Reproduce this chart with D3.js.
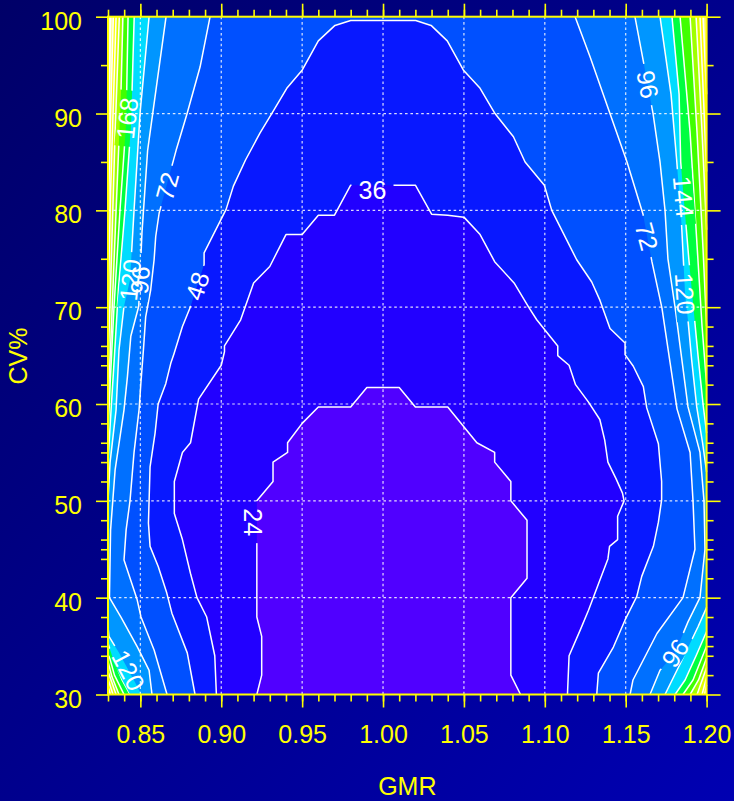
<!DOCTYPE html>
<html>
<head>
<meta charset="utf-8">
<script src="https://cdn.jsdelivr.net/npm/d3@7"></script>
<style>
  html, body { margin: 0; padding: 0; background: #00008a; }
  svg { display: block; font-family: 'Liberation Sans', Arial, sans-serif; }
</style>
</head>
<body>
<div id="chart"></div>
<script>
// contour levels (sample size) and the fill of the band just below each level
const levels = [24, 36, 48, 72, 96, 120, 144, 168, 192, 216, 240, 264, 288];
const bandColors = ['#5000ff', '#2200ff', '#0818ff', '#0050ff', '#0070ff', '#0096ff', '#00dcff',
  '#00ff40', '#40ff00', '#a0ff00', '#e0ff00', '#ffff00', '#ffff80'];
const overColor = '#ffffd0';

// axis ticks
const xMajor = [0.85, 0.90, 0.95, 1.00, 1.05, 1.10, 1.15, 1.20];
const xMinor = d3.range(83, 121).map(d => d / 100);
const yMajor = [30, 40, 50, 60, 70, 80, 90, 100];
const yMinor = [32, 34, 35, 36, 38, 42, 44, 45, 46, 48, 52, 54, 55, 56, 58, 62, 64, 65, 66, 68, 75, 85, 95];
const xGrid = [0.85, 0.90, 0.95, 1.00, 1.05, 1.10, 1.15];
const yGrid = [40, 50, 60, 70, 80, 90];

// contour lines, [GMR, CV%]
const c24 = [[0.922,30],[0.925,32],[0.925,36],[0.922,38],[0.922,50],[0.932,52],[0.932,54],[0.941,55],[0.941,56],
  [0.950,58],[0.960,59.7],[0.980,59.7],[0.990,61.7],[1.010,61.7],[1.020,59.7],[1.040,59.7],[1.058,56],[1.069,55],
  [1.069,54],[1.079,52],[1.079,50],[1.089,48],[1.089,42],[1.079,40],[1.079,32],[1.085,30]];
const c36 = [[0.897,30],[0.896,34],[0.891,38],[0.885,40],[0.881,42.5],[0.876,46],[0.871,48.7],[0.871,52],[0.876,55],
  [0.881,56],[0.886,60.5],[0.900,64],[0.902,65.4],[0.902,66],[0.912,68.7],[0.920,72.5],[0.930,74.2],[0.940,77.5],
  [0.950,77.5],[0.960,79.5],[0.970,79.5],[0.980,82.6],[1.020,82.6],[1.030,79.6],[1.040,79.5],[1.050,79.3],
  [1.060,77.5],[1.069,74.7],[1.081,72.5],[1.090,70],[1.095,68.7],[1.108,66],[1.108,65],[1.115,64],[1.119,62],
  [1.127,60.2],[1.134,58.4],[1.137,56.3],[1.139,54],[1.144,52.3],[1.148,50.8],[1.149,50],[1.145,48.4],[1.145,46],
  [1.140,45.3],[1.139,44],[1.134,41.8],[1.127,38.7],[1.122,36.7],[1.115,34],[1.114,30]];
const c48 = [[0.8838,30],[0.879,34.3],[0.8695,38.4],[0.8663,40.5],[0.8611,43.2],[0.856,45.3],[0.855,47.7],[0.856,53.5],
  [0.8591,57],[0.861,60],[0.8657,62.1],[0.8688,64.2],[0.8708,65.2],[0.876,68],[0.8811,70.1],[0.8894,74.4],
  [0.8894,75.6],[0.903,80.1],[0.9075,82.5],[0.915,85.2],[0.924,88],[0.9312,90],[0.9405,92.6],[0.9501,94.5],
  [0.96,97.5],[0.9703,99.1],[0.98,99.6],[1.0202,99.6],[1.0297,99.1],[1.0397,97.5],[1.0496,94.5],[1.06,92.6],
  [1.0692,90],[1.0806,87.6],[1.0878,85],[1.0997,82.6],[1.1043,80],[1.1197,74.9],[1.129,72.6],[1.1341,70.7],
  [1.1403,67.8],[1.1496,66.3],[1.1496,65.1],[1.1547,63.9],[1.1609,61.8],[1.163,59.6],[1.1702,55.9],[1.1722,52],
  [1.1722,50.1],[1.1702,47.8],[1.1671,45.3],[1.1599,42.2],[1.1568,40.1],[1.1496,37.7],[1.1424,34.9],[1.1331,32.2],
  [1.1321,30]];
const c72Left = [[0.8665,30],[0.8585,34.6],[0.8504,38],[0.848,39.8],[0.8399,43.9],[0.8412,47],[0.8436,50],[0.8461,55],
  [0.8492,59.4],[0.8503,62.1],[0.8519,65.6],[0.8533,69],[0.8564,71.8],[0.8585,74.9],[0.8595,77.3],[0.8616,79.7],
  [0.8721,86.2],[0.8789,90],[0.8869,94.8],[0.8931,100]];
const c72Right = [[1.1187,100],[1.1279,95.9],[1.1508,85],[1.1607,79.6],[1.1662,74.7],[1.1724,69.9],[1.1774,64.3],
  [1.1817,59.5],[1.1898,55],[1.1916,50],[1.1928,45],[1.1854,40],[1.1693,36.3],[1.1545,31.5],[1.1527,30]];
const c96Left = [[0.8572,30],[0.8554,32.5],[0.8482,34.9],[0.838,38],[0.8309,40],[0.8316,47],[0.8344,53.2],[0.8399,59.4],
  [0.842,62.8],[0.8441,67],[0.849,70.1],[0.851,77.7],[0.8545,86.2],[0.8659,100]];
const c96Right = [[1.1557,100],[1.1619,94.5],[1.1669,90],[1.1712,85],[1.1743,80],[1.1761,75],[1.1805,70],[1.1836,66],
  [1.1885,59.7],[1.1959,55],[1.1984,50],[1.199,45],[1.1959,40],[1.1885,37.5],[1.1805,34.3],[1.1712,32.5],[1.165,30]];
const c120LeftLow = [[0.8504,30],[0.8482,30.8],[0.8368,34.3],[0.8306,36],[0.83,37]];
const c120LeftUp = [[0.83,50],[0.8313,54],[0.835,59.4],[0.8368,65.6],[0.8399,70.1],[0.8436,72.8],[0.8461,80],
  [0.8498,90],[0.8554,100]];
const c120RightUp = [[1.1712,100],[1.178,92],[1.1815,85.2],[1.1846,78.3],[1.1867,71.4],[1.1887,68.3],[1.1908,64.5],
  [1.1939,59.7],[1.1975,56],[1.2,53]];
const c120RightLow = [[1.2,39],[1.1947,37],[1.1861,34],[1.1743,30]];
const c144LeftLow = [[0.8436,30],[0.8387,31.5],[0.8325,34],[0.83,35.3]];
const c144LeftUp = [[0.83,54],[0.8319,59.4],[0.834,65],[0.8365,72],[0.8405,80],[0.8443,89],[0.8462,100]];
const c144RightUp = [[1.1786,100],[1.183,92],[1.184,85],[1.189,75],[1.1947,65],[1.1978,60],[1.2,57]];
const c144RightLow = [[1.2,36.5],[1.1935,34],[1.1867,31.5],[1.1805,30]];
const c168LeftLow = [[0.8399,30],[0.834,32],[0.83,34.4]];
const c168LeftUp = [[0.83,57],[0.8313,62],[0.8337,70],[0.8374,80],[0.8412,89],[0.8424,100]];
const c168RightUp = [[1.1836,100],[1.1898,88],[1.1935,78],[1.1972,68],[1.2,62]];
const c168RightLow = [[1.2,35],[1.1916,31.5],[1.1854,30]];
const c192LeftLow = [[0.8368,30],[0.8325,31.8],[0.83,33.4]];
const c192LeftUp = [[0.83,60],[0.8319,67],[0.835,80],[0.838,92],[0.8392,100]];
const c192RightUp = [[1.1898,100],[1.1941,88],[1.1978,76],[1.2,68]];
const c192RightLow = [[1.2,33.8],[1.195,31.5],[1.1898,30]];
const c216LeftLow = [[0.835,30],[0.83,32.4]];
const c216LeftUp = [[0.83,64],[0.8319,74],[0.8344,88],[0.837,100]];
const c216RightUp = [[1.1935,100],[1.1972,88],[1.2,78]];
const c216RightLow = [[1.2,32.8],[1.1941,30]];
const c240LeftLow = [[0.8331,30],[0.83,31.6]];
const c240LeftUp = [[0.83,70],[0.8316,82],[0.835,100]];
const c240RightUp = [[1.1959,100],[1.1985,90],[1.2,84]];
const c240RightLow = [[1.2,31.8],[1.1972,30]];
const c264LeftLow = [[0.8315,30],[0.83,30.8]];
const c264LeftUp = [[0.83,78],[0.8313,88],[0.8333,100]];
const c264RightUp = [[1.1978,100],[1.2,92]];
const c264RightLow = [[1.2,31],[1.1988,30]];
const c288LeftUp = [[0.83,86],[0.8317,100]];

// branches of each level, in clockwise order round the region below that level
const branchesByLevel = {
  24: [c24], 36: [c36], 48: [c48],
  72: [c72Left, c72Right], 96: [c96Left, c96Right],
  120: [c120LeftLow, c120LeftUp, c120RightUp, c120RightLow],
  144: [c144LeftLow, c144LeftUp, c144RightUp, c144RightLow],
  168: [c168LeftLow, c168LeftUp, c168RightUp, c168RightLow],
  192: [c192LeftLow, c192LeftUp, c192RightUp, c192RightLow],
  216: [c216LeftLow, c216LeftUp, c216RightUp, c216RightLow],
  240: [c240LeftLow, c240LeftUp, c240RightUp, c240RightLow],
  264: [c264LeftLow, c264LeftUp, c264RightUp, c264RightLow],
  288: [c288LeftUp]
};

// contour labels: level, GMR, CV%, angle
const contourLabels = [
  [24, 0.9195, 47.8, 90], [36, 0.9935, 82.1, 0], [48, 0.8852, 72.2, -72],
  [72, 0.8665, 82.5, -75], [72, 1.163, 77.3, 75],
  [96, 0.8497, 72.8, -85], [96, 1.1636, 93, 79], [96, 1.1805, 34.3, -56],
  [120, 0.8436, 72.8, -84], [120, 1.1867, 71.4, 86], [120, 0.8427, 32.5, 62],
  [144, 1.1858, 81.4, 85], [168, 0.8418, 89.5, -84]
];

const width = 734, height = 801;
const plot = { left: 108, right: 706.6, top: 16.7, bottom: 694.5 };
const yellow = '#ffff00';

const x = d3.scaleLinear().domain([0.83, 1.2]).range([plot.left, plot.right]);
const y = d3.scaleLinear().domain([30, 100]).range([plot.bottom, plot.top]);
const [gMin, gMax] = x.domain();
const [cvMin, cvMax] = y.domain();

const svg = d3.select('#chart').append('svg')
  .attr('width', width)
  .attr('height', height);

const defs = svg.append('defs');

// page background
const bg = defs.append('linearGradient')
  .attr('id', 'bg')
  .attr('x1', 0).attr('y1', 0).attr('x2', 1).attr('y2', 1);
bg.append('stop').attr('offset', '0%').attr('stop-color', '#000068');
bg.append('stop').attr('offset', '100%').attr('stop-color', '#0000b2');
svg.append('rect').attr('width', width).attr('height', height).attr('fill', 'url(#bg)');

// position of a border point, walking clockwise from the bottom-left corner
function perim([g, cv]) {
  const eps = 1e-6;
  if (Math.abs(g - gMin) < eps) return (cv - cvMin) / (cvMax - cvMin);
  if (Math.abs(cv - cvMax) < eps) return 1 + (g - gMin) / (gMax - gMin);
  if (Math.abs(g - gMax) < eps) return 2 + (cvMax - cv) / (cvMax - cvMin);
  return 3 + (gMax - g) / (gMax - gMin);
}
const corners = [[gMin, cvMin], [gMin, cvMax], [gMax, cvMax], [gMax, cvMin]];

function ringOf(branches) {
  const ring = [];
  branches.forEach((b, i) => {
    ring.push(...b);
    const next = branches[(i + 1) % branches.length];
    const t0 = perim(b[b.length - 1]);
    let t1 = perim(next[0]);
    if (t1 < t0) t1 += 4;
    for (let k = Math.ceil(t0); k < t1; k++) ring.push(corners[k % 4]);
  });
  return ring;
}

const line = d3.line().x(d => x(d[0])).y(d => y(d[1]));

// filled bands, painted from the highest level down
const fills = svg.append('g');
fills.append('rect')
  .attr('x', plot.left).attr('y', plot.top)
  .attr('width', plot.right - plot.left).attr('height', plot.bottom - plot.top)
  .attr('fill', overColor);

levels.map((lev, i) => ({ lev, i })).reverse().forEach(({ lev, i }) => {
  fills.append('path')
    .attr('d', line(ringOf(branchesByLevel[lev])) + 'Z')
    .attr('fill', bandColors[i]);
});

// dotted grid
const grid = svg.append('g')
  .attr('stroke', '#ffffff')
  .attr('stroke-opacity', 0.85)
  .attr('stroke-width', 1.2)
  .attr('stroke-dasharray', '2.6,2.8');
grid.selectAll('.gx').data(xGrid).join('line')
  .attr('x1', d => x(d)).attr('x2', d => x(d))
  .attr('y1', plot.top).attr('y2', plot.bottom);
grid.selectAll('.gy').data(yGrid).join('line')
  .attr('y1', d => y(d)).attr('y2', d => y(d))
  .attr('x1', plot.left).attr('x2', plot.right);

// gaps in the lines under the labels
const mask = defs.append('mask')
  .attr('id', 'labelGaps')
  .attr('maskUnits', 'userSpaceOnUse')
  .attr('x', 0).attr('y', 0).attr('width', width).attr('height', height);
mask.append('rect').attr('width', width).attr('height', height).attr('fill', 'white');
mask.selectAll('rect.gap').data(contourLabels).join('rect')
  .attr('class', 'gap')
  .attr('transform', d => `translate(${x(d[1])},${y(d[2])}) rotate(${d[3]})`)
  .attr('x', d => -(String(d[0]).length * 14 + 14) / 2)
  .attr('y', -10)
  .attr('width', d => String(d[0]).length * 14 + 14)
  .attr('height', 20)
  .attr('fill', 'black');

// contour lines
const linesG = svg.append('g')
  .attr('mask', 'url(#labelGaps)')
  .attr('fill', 'none')
  .attr('stroke', '#ffffff')
  .attr('stroke-width', 1.5)
  .attr('stroke-linejoin', 'round');
levels.forEach(lev => {
  branchesByLevel[lev].forEach(b => {
    linesG.append('path').attr('d', line(b));
  });
});

// contour labels
svg.append('g').selectAll('text').data(contourLabels).join('text')
  .attr('transform', d => `translate(${x(d[1])},${y(d[2])}) rotate(${d[3]})`)
  .attr('text-anchor', 'middle')
  .attr('dy', '0.36em')
  .attr('fill', '#ffffff')
  .style('font-size', '25px')
  .text(d => d[0]);

// axes
function styleAxis(g) {
  g.select('.domain').remove();
  g.selectAll('.tick line').attr('stroke', yellow).attr('stroke-width', 1.6);
  g.selectAll('.tick text').attr('fill', yellow);
  g.attr('font-size', 25).attr('font-family', "'Liberation Sans', Arial, sans-serif");
}

svg.append('g')
  .attr('transform', `translate(0,${plot.bottom})`)
  .call(d3.axisBottom(x).tickValues(xMinor).tickSize(7).tickFormat(''))
  .call(styleAxis);
svg.append('g')
  .attr('transform', `translate(0,${plot.bottom})`)
  .call(d3.axisBottom(x).tickValues(xMajor).tickSize(13).tickPadding(18).tickFormat(d3.format('.2f')))
  .call(styleAxis);
svg.append('g')
  .attr('transform', `translate(0,${plot.top})`)
  .call(d3.axisTop(x).tickValues(xMinor).tickSize(7).tickFormat(''))
  .call(styleAxis);
svg.append('g')
  .attr('transform', `translate(0,${plot.top})`)
  .call(d3.axisTop(x).tickValues(xMajor).tickSize(13).tickFormat(''))
  .call(styleAxis);

svg.append('g')
  .attr('transform', `translate(${plot.left},0)`)
  .call(d3.axisLeft(y).tickValues(yMinor).tickSize(7).tickFormat(''))
  .call(styleAxis);
svg.append('g')
  .attr('transform', `translate(${plot.left},0)`)
  .call(d3.axisLeft(y).tickValues(yMajor).tickSize(12).tickPadding(14).tickFormat(d3.format('d')))
  .call(styleAxis)
  .selectAll('.tick text').attr('dy', '0.5em');
svg.append('g')
  .attr('transform', `translate(${plot.right},0)`)
  .call(d3.axisRight(y).tickValues(yMinor).tickSize(7).tickFormat(''))
  .call(styleAxis);
svg.append('g')
  .attr('transform', `translate(${plot.right},0)`)
  .call(d3.axisRight(y).tickValues(yMajor).tickSize(14).tickFormat(''))
  .call(styleAxis);

// plot border
svg.append('rect')
  .attr('x', plot.left).attr('y', plot.top)
  .attr('width', plot.right - plot.left).attr('height', plot.bottom - plot.top)
  .attr('fill', 'none')
  .attr('stroke', yellow)
  .attr('stroke-width', 2);

// axis titles
svg.append('text')
  .attr('x', (plot.left + plot.right) / 2)
  .attr('y', 795)
  .attr('text-anchor', 'middle')
  .attr('fill', yellow)
  .style('font-size', '25px')
  .text('GMR');
svg.append('text')
  .attr('transform', `translate(26.5,356) rotate(-90)`)
  .attr('text-anchor', 'middle')
  .attr('fill', yellow)
  .style('font-size', '25px')
  .text('CV%');
</script>
</body>
</html>
